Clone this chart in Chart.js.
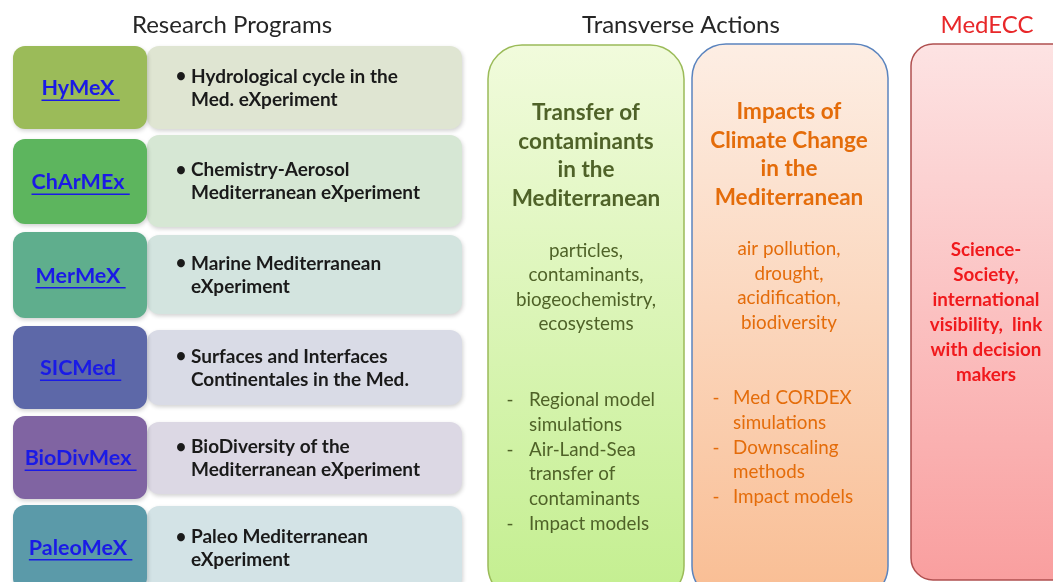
<!DOCTYPE html>
<html>
<head>
<meta charset="utf-8">
<script src="https://cdn.jsdelivr.net/npm/chart.js@4"></script>
<style>
  body { margin: 0; background: #fff; }
  canvas { display: block; }
</style>
</head>
<body>
<canvas id="diagram" width="1053" height="582"></canvas>
<script>
// section titles
const sectionTitles = ['Research Programs', 'Transverse Actions', 'MedECC'];

// research programs (left column)
const programs = ['HyMeX', 'ChArMEx', 'MerMeX', 'SICMed', 'BioDivMex', 'PaleoMeX'];
const programDescriptions = [
  ['Hydrological cycle in the', 'Med. eXperiment'],
  ['Chemistry-Aerosol', 'Mediterranean eXperiment'],
  ['Marine Mediterranean', 'eXperiment'],
  ['Surfaces and Interfaces', 'Continentales in the Med.'],
  ['BioDiversity of the', 'Mediterranean eXperiment'],
  ['Paleo Mediterranean', 'eXperiment']
];

// transverse actions
const transferTitle = ['Transfer of', 'contaminants', 'in the', 'Mediterranean'];
const transferTopics = ['particles,', 'contaminants,', 'biogeochemistry,', 'ecosystems'];
const transferItems = [['Regional model', 'simulations'], ['Air-Land-Sea', 'transfer of', 'contaminants'], ['Impact models']];

const impactsTitle = ['Impacts of', 'Climate Change', 'in the', 'Mediterranean'];
const impactsTopics = ['air pollution,', 'drought,', 'acidification,', 'biodiversity'];
const impactsItems = [['Med CORDEX', 'simulations'], ['Downscaling', 'methods'], ['Impact models']];

const medeccText = ['Science-', 'Society,', 'international', 'visibility,  link', 'with decision', 'makers'];

// layout (in diagram units, mapped through the chart scales)
const rowTop = [46, 139, 232, 326, 416, 505];
const rowBottom = [129, 224, 318, 409, 499, 590];
const descTop = [46, 135, 235, 330, 422, 506];
const descBottom = [129, 227, 314, 405, 494, 590];
const darkColors = ['#9bbb59', '#5db55e', '#5fae8d', '#5d68a8', '#8064a2', '#5b9aa9'];
const lightColors = ['#dfe5d2', '#d6e7d4', '#d3e4df', '#d9dbe6', '#dcd8e4', '#d3e3e6'];

const FONT = 'Lato, "Open Sans", sans-serif';

const diagramPlugin = {
  id: 'diagram',
  beforeDatasetsDraw(chart) {
    const ctx = chart.ctx;
    const sx = chart.scales.x, sy = chart.scales.y;
    const X = v => sx.getPixelForValue(v);
    const Y = v => sy.getPixelForValue(v);

    function box(x0, y0, x1, y1, r, fill, stroke, shadow) {
      ctx.save();
      if (shadow) {
        ctx.shadowColor = 'rgba(0,0,0,0.18)';
        ctx.shadowBlur = 4;
        ctx.shadowOffsetX = 1;
        ctx.shadowOffsetY = 2;
      }
      ctx.beginPath();
      ctx.roundRect(X(x0), Y(y0), X(x1) - X(x0), Y(y1) - Y(y0), r);
      ctx.fillStyle = fill;
      ctx.fill();
      ctx.shadowColor = 'transparent';
      if (stroke) {
        ctx.lineWidth = 1.5;
        ctx.strokeStyle = stroke;
        ctx.stroke();
      }
      ctx.restore();
    }
    function grad(y0, y1, c0, c1) {
      const g = ctx.createLinearGradient(0, Y(y0), 0, Y(y1));
      g.addColorStop(0, c0);
      g.addColorStop(1, c1);
      return g;
    }
    function text(str, x, y, font, color, align) {
      ctx.font = font;
      ctx.fillStyle = color;
      ctx.textAlign = align || 'center';
      ctx.textBaseline = 'middle';
      ctx.fillText(str, X(x), Y(y));
    }

    // titles
    text(sectionTitles[0], 232, 25, '24px ' + FONT, '#262626');
    text(sectionTitles[1], 681, 25, '24px ' + FONT, '#262626');
    text(sectionTitles[2], 987, 25, '24px ' + FONT, '#e8282a');

    // research program rows
    programs.forEach((name, i) => {
      box(147, descTop[i], 462, descBottom[i], 12, lightColors[i], null, true);
      box(13, rowTop[i], 147, rowBottom[i], 12, darkColors[i], null, true);
      const ny = i === 5 ? 548 : (rowTop[i] + rowBottom[i]) / 2 + 1;
      const nameFont = 'bold 21.5px ' + FONT;
      ctx.font = nameFont;
      const w = ctx.measureText(name + ' ').width;
      const left = X(78) - ctx.measureText(name).width / 2;
      text(name, 78, ny, nameFont, '#1a1ae6');
      ctx.fillStyle = '#1a1ae6';
      ctx.fillRect(left, Y(ny) + 11, w, 1.5);
      const lines = programDescriptions[i];
      const dy = i === 5 ? 537 : (descTop[i] + descBottom[i]) / 2 - 11;
      text('\u2022', 181, dy, 'bold 18px ' + FONT, '#1a1a1a');
      lines.forEach((l, k) => text(l, 191, dy + k * 23, 'bold 19px ' + FONT, '#1a1a1a', 'left'));
    });

    // transfer of contaminants
    box(488, 45, 684, 600, 34, grad(45, 582, '#f1fbdc', '#c5ef92'), '#9bbb59', false);
    transferTitle.forEach((l, k) => text(l, 586, 113 + k * 28.5, 'bold 22.5px ' + FONT, '#4f6228'));
    transferTopics.forEach((l, k) => text(l, 586, 251 + k * 24.3, '18.8px ' + FONT, '#4f6228'));
    let y = 400;
    transferItems.forEach(item => {
      text('-', 510, y, '18.8px ' + FONT, '#4f6228');
      item.forEach(l => { text(l, 529, y, '18.8px ' + FONT, '#4f6228', 'left'); y += 24.8; });
    });

    // impacts of climate change
    box(692, 44, 888, 600, 34, grad(44, 582, '#fdeee4', '#f9bf96'), '#5b84be', false);
    impactsTitle.forEach((l, k) => text(l, 789, 112 + k * 28.5, 'bold 22.5px ' + FONT, '#e46c0a'));
    impactsTopics.forEach((l, k) => text(l, 789, 249 + k * 24.5, '18.8px ' + FONT, '#e46c0a'));
    y = 398;
    impactsItems.forEach(item => {
      text('-', 716, y, '18.8px ' + FONT, '#e46c0a');
      item.forEach(l => { text(l, 733, y, '18.8px ' + FONT, '#e46c0a', 'left'); y += 24.8; });
    });

    // MedECC
    box(911, 44, 1075, 580, 22, grad(44, 580, '#fde3e3', '#f99f9f'), '#b05050', false);
    medeccText.forEach((l, k) => text(l, 986, 250 + k * 25, 'bold 18.8px ' + FONT, '#f0191c'));
  }
};

new Chart(document.getElementById('diagram').getContext('2d'), {
  type: 'scatter',
  data: { datasets: [{ data: [], pointRadius: 0 }] },
  options: {
    responsive: false,
    animation: false,
    layout: { padding: 0 },
    plugins: { legend: { display: false }, tooltip: { enabled: false } },
    scales: {
      x: { type: 'linear', min: 0, max: 1053, display: false },
      y: { type: 'linear', min: 0, max: 582, reverse: true, display: false }
    }
  },
  plugins: [diagramPlugin]
});
</script>
</body>
</html>
